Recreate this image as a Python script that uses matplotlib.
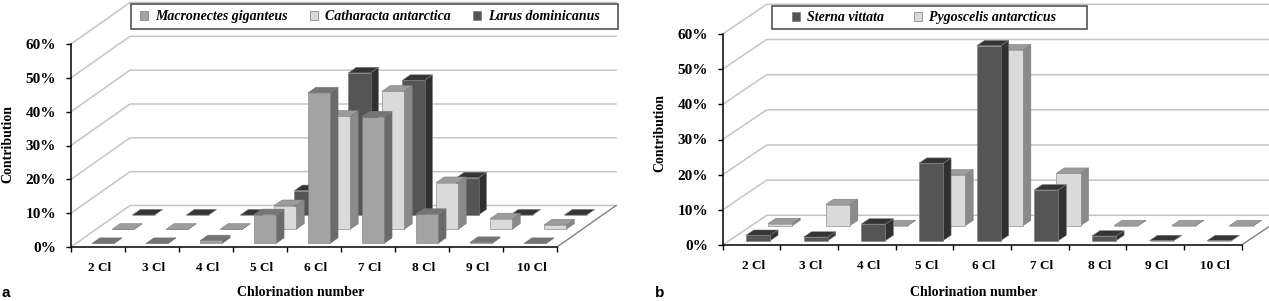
import matplotlib
matplotlib.use('Agg')
import matplotlib.pyplot as plt
from matplotlib.patches import Patch, Polygon, Rectangle

plt.rcParams['font.family'] = ['Liberation Serif', 'DejaVu Serif']

W, H = 1269, 301

categories = ['2 Cl', '3 Cl', '4 Cl', '5 Cl', '6 Cl', '7 Cl', '8 Cl', '9 Cl', '10 Cl']
y_ticks = [0, 10, 20, 30, 40, 50, 60]

# values, in percent
macronectes = [0, 0, 0.8, 8.5, 44.5, 37.4, 8.6, 0.3, 0]
catharacta = [0, 0, 0, 7.0, 33.4, 40.8, 13.8, 3.1, 1.3]
larus = [0, 0, 0, 7.2, 42.0, 39.8, 11.0, 0, 0]
sterna = [1.5, 1.0, 4.7, 22.0, 55.4, 14.4, 1.3, 0, 0]
pygoscelis = [0.6, 6.0, 0, 14.4, 50.0, 14.9, 0, 0, 0]

MID = ('#a3a3a3', '#747474', '#6a6a6a')
LIGHT = ('#dadada', '#9c9c9c', '#8a8a8a')
DARK = ('#555555', '#343434', '#303030')


def px_box(x0, y0, x1, y1):
    # pixel box (top-left origin) to figure fractions
    return [x0 / W, 1 - y1 / H, (x1 - x0) / W, (y1 - y0) / H]


def draw_panel(fig, box, depth_px, series, rows, bar_w, bar_d, legend_box, legend_mid, legend_gap):
    ax = fig.add_axes(px_box(*box))
    ax.set_xlim(0, 9)
    ax.set_ylim(0, 60)
    px_x = (box[2] - box[0]) / 9
    px_y = (box[3] - box[1]) / 60
    dx = depth_px[0] / px_x
    dy = depth_px[1] / px_y

    def proj(x, v, d):
        return (x + d * dx, v + d * dy)

    # back walls
    for v in y_ticks:
        pts = [proj(0, v, 0), proj(0, v, 1), proj(9, v, 1)]
        ax.plot(*zip(*pts), color='#c4c4c4', lw=1.1, clip_on=False, zorder=1)
    ax.plot(*zip(proj(9, 0, 0), proj(9, 0, 1)), color='#808080', lw=1, clip_on=False, zorder=1)

    # bars, back row first
    order = sorted(range(len(series)), key=lambda i: -rows[i])
    z = 2
    for i in order:
        name, vals, cols = series[i]
        d0 = rows[i]
        d1 = d0 + bar_d
        for c, v in enumerate(vals):
            x0 = c + 0.5 - bar_w / 2
            x1 = c + 0.5 + bar_w / 2
            front = [proj(x0, 0, d0), proj(x1, 0, d0), proj(x1, v, d0), proj(x0, v, d0)]
            top = [proj(x0, v, d0), proj(x1, v, d0), proj(x1, v, d1), proj(x0, v, d1)]
            side = [proj(x1, 0, d0), proj(x1, 0, d1), proj(x1, v, d1), proj(x1, v, d0)]
            for pts, col in ((side, cols[2]), (top, cols[1]), (front, cols[0])):
                ax.add_patch(Polygon(pts, closed=True, facecolor=col, edgecolor='#7a7a7a',
                                     lw=0.4, clip_on=False, zorder=z))
            z += 1

    ax.spines['top'].set_visible(False)
    ax.spines['right'].set_visible(False)
    ax.spines['left'].set_linewidth(1.1)
    ax.spines['bottom'].set_linewidth(1.1)
    ax.spines['left'].set_zorder(z)
    ax.spines['bottom'].set_zorder(z)
    ax.patch.set_alpha(0)

    ax.set_yticks(y_ticks)
    ax.set_yticklabels(['%d%%' % v for v in y_ticks], fontsize=11, fontweight='bold')
    ax.tick_params(axis='y', length=3.6, width=1, pad=7)
    ax.set_xticks(range(10))
    ax.set_xticklabels([])
    ax.tick_params(axis='x', which='major', length=3.6, width=1)
    ax.set_xticks([c + 0.53 for c in range(9)], minor=True)
    ax.set_xticklabels(categories, minor=True, fontsize=9.5, fontweight='bold')
    ax.tick_params(axis='x', which='minor', length=0, pad=11)

    # legend frame drawn apart so the entries can sit off-centre in it
    frame = px_box(*legend_box)
    ax.add_patch(Rectangle(frame[:2], frame[2], frame[3], transform=fig.transFigure,
                           facecolor='white', edgecolor='#444444', lw=1.1,
                           clip_on=False, zorder=z + 1))
    handles = [Patch(facecolor=s[2][0], edgecolor='#777777', lw=0.5, label=s[0]) for s in series]
    leg = ax.legend(handles=handles, ncol=len(handles), loc='center',
                    bbox_to_anchor=(legend_mid / W, 1 - (legend_box[1] + legend_box[3]) / 2 / H),
                    bbox_transform=fig.transFigure, frameon=False,
                    prop={'style': 'italic', 'weight': 'bold', 'size': 10},
                    handlelength=0.6, handleheight=0.6, handletextpad=0.5,
                    columnspacing=legend_gap, borderaxespad=0, borderpad=0)
    leg.set_zorder(z + 2)
    return ax


fig = plt.figure(figsize=(W / 100, H / 100), dpi=100)

ax_a = draw_panel(fig, (71, 44, 557, 247), (59, 41.5),
                  [('Macronectes giganteus', macronectes, MID),
                   ('Catharacta antarctica', catharacta, LIGHT),
                   ('Larus dominicanus', larus, DARK)],
                  [0.085, 0.427, 0.77], 0.41, 0.135,
                  (131, 4, 618, 29), 370, 1.6)
ax_b = draw_panel(fig, (722.7, 34, 1241.7, 245), (44, 29.7),
                  [('Sterna vittata', sterna, DARK),
                   ('Pygoscelis antarcticus', pygoscelis, LIGHT)],
                  [0.148, 0.65], 0.42, 0.18,
                  (772, 6, 1087, 29), 924, 2.15)

fig.text(301 / W, 1 - 293 / H, 'Chlorination number', fontsize=10, fontweight='bold', ha='center', va='center')
fig.text(974 / W, 1 - 293 / H, 'Chlorination number', fontsize=10, fontweight='bold', ha='center', va='center')
fig.text(8 / W, 1 - 144 / H, 'Contribution', fontsize=10, fontweight='bold', rotation=90, ha='center', va='center')
fig.text(660 / W, 1 - 133 / H, 'Contribution', fontsize=10, fontweight='bold', rotation=90, ha='center', va='center')
fig.text(2 / W, 1 - 293 / H, 'a', family='Liberation Sans', fontsize=11, fontweight='bold', va='center')
fig.text(655 / W, 1 - 293 / H, 'b', family='Liberation Sans', fontsize=11, fontweight='bold', va='center')

plt.savefig('out.png', dpi=100)
